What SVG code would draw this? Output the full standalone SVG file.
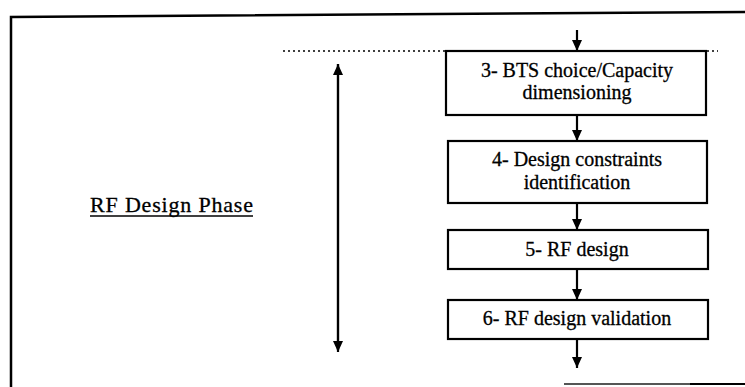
<svg xmlns="http://www.w3.org/2000/svg" width="745" height="387" viewBox="0 0 745 387">
<style>
.box{fill:#fff;stroke:#000;stroke-width:2.2}
.t{font-family:'Liberation Serif','Times New Roman',serif;font-size:20px;fill:#000;stroke:#000;stroke-width:0.3;text-anchor:middle}
.c{stroke:#000;stroke-width:2.2;fill:none}
</style>
<defs>
<marker id="ah" markerWidth="12" markerHeight="12" refX="11" refY="5" orient="auto" markerUnits="userSpaceOnUse">
<path d="M0,0 L11,5 L0,10 Z" fill="#000"/>
</marker>
</defs>
<rect width="745" height="387" fill="#fff"/>
<g id="frame">
<path d="M11,387 L11,17 L745,12" fill="none" stroke="#000" stroke-width="2.5"/>
<line x1="564" y1="384" x2="745" y2="384" stroke="#555" stroke-width="2"/>
<line x1="690" y1="384" x2="745" y2="384" stroke="#000" stroke-width="2"/>
</g>
<g id="phase">
<line x1="283" y1="51" x2="446" y2="51" stroke="#000" stroke-width="1.5" stroke-dasharray="2,3"/>
<line x1="707" y1="51" x2="718" y2="51" stroke="#000" stroke-width="1.5" stroke-dasharray="2,3"/>
<text x="90" y="212" font-family="'Liberation Serif','Times New Roman',serif" font-size="22" stroke="#000" stroke-width="0.3" textLength="163" lengthAdjust="spacing">RF Design Phase</text>
<line x1="90" y1="216" x2="253" y2="216" stroke="#000" stroke-width="1.5"/>
</g>
<g id="connectors">
<line class="c" x1="338" y1="350" x2="338" y2="64" marker-end="url(#ah)"/>
<line class="c" x1="338" y1="64" x2="338" y2="352" marker-end="url(#ah)"/>
<line class="c" x1="577" y1="30" x2="577" y2="51" marker-end="url(#ah)"/>
<line class="c" x1="577" y1="115" x2="577" y2="141" marker-end="url(#ah)"/>
<line class="c" x1="577" y1="203" x2="577" y2="230" marker-end="url(#ah)"/>
<line class="c" x1="577" y1="269" x2="577" y2="300" marker-end="url(#ah)"/>
<line class="c" x1="577" y1="339" x2="577" y2="368" marker-end="url(#ah)"/>
</g>
<g id="n3">
<rect class="box" x="446" y="51" width="260" height="64"/>
<text class="t" x="577" y="77">3- BTS choice/Capacity</text>
<text class="t" x="577" y="99">dimensioning</text>
</g>
<g id="n4">
<rect class="box" x="448" y="141" width="259" height="62"/>
<text class="t" x="577" y="166">4- Design constraints</text>
<text class="t" x="577" y="189">identification</text>
</g>
<g id="n5">
<rect class="box" x="448" y="230" width="260" height="39"/>
<text class="t" x="577" y="256">5- RF design</text>
</g>
<g id="n6">
<rect class="box" x="448" y="300" width="260" height="39"/>
<text class="t" x="577" y="325">6- RF design validation</text>
</g>
</svg>
